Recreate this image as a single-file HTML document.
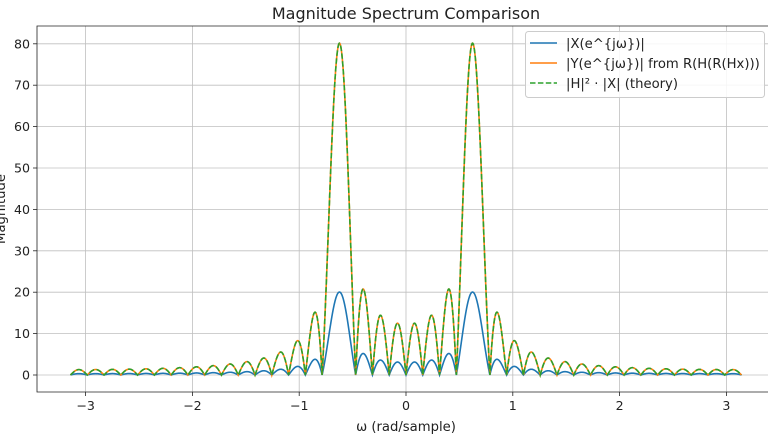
<!DOCTYPE html>
<html><head><meta charset="utf-8"><style>
body{margin:0;background:#fff;width:768px;height:435px;overflow:hidden}
text{font-family:"DejaVu Sans","Liberation Sans",sans-serif;fill:#222}
</style></head><body>
<svg id="s" width="768" height="435" xmlns="http://www.w3.org/2000/svg">
<rect width="768" height="435" fill="#fff"/>
<g id="grid" stroke="#b0b0b0" stroke-width="0.8" opacity="0.8"></g>
<g id="lines" fill="none"></g>
<g id="axes"></g>
<text x="406" y="19" text-anchor="middle" font-size="16">Magnitude Spectrum Comparison</text>
<text x="406" y="431" text-anchor="middle" font-size="13.2">ω (rad/sample)</text>
<text transform="translate(5,209) rotate(-90)" text-anchor="middle" font-size="13.2">Magnitude</text>
<g>
<rect x="525.5" y="31.5" width="239" height="66" rx="3" fill="#fff" fill-opacity="0.85" stroke="#ccc"/>
<line x1="530" y1="43" x2="557" y2="43" stroke="#1f77b4" stroke-width="1.6"/>
<line x1="530" y1="63" x2="557" y2="63" stroke="#ff7f0e" stroke-width="1.6"/>
<line x1="530" y1="83" x2="557" y2="83" stroke="#2ca02c" stroke-width="1.6" stroke-dasharray="5.5,2.4"/>
<text x="566" y="48" font-size="13.2">|X(e^{jω})|</text>
<text x="566" y="68" font-size="13.2">|Y(e^{jω})| from R(H(R(Hx)))</text>
<text x="566" y="88" font-size="13.2">|H|² · |X| (theory)</text>
</g>
</svg>
<script>
const X0=406,SX=106.8,Y0=375,SY=4.14,L=37,T=26,B=392,R=775;
const ns="http://www.w3.org/2000/svg";
function el(p,t,a,txt){const e=document.createElementNS(ns,t);for(const k in a)e.setAttribute(k,a[k]);if(txt!==undefined)e.textContent=txt;document.getElementById(p).appendChild(e);return e;}
for(let v=-3;v<=3;v++){const x=X0+v*SX;el('grid','line',{x1:x,y1:T,x2:x,y2:B});
el('axes','line',{x1:x,y1:B,x2:x,y2:B+4,stroke:'#222','stroke-width':0.8});
el('axes','text',{x:x,y:B+18,'text-anchor':'middle','font-size':12.6},(v<0?'−':'')+Math.abs(v));}
for(let v=0;v<=80;v+=10){const y=Y0-v*SY;el('grid','line',{x1:L,y1:y,x2:R,y2:y});
el('axes','line',{x1:L-4,y1:y,x2:L,y2:y,stroke:'#222','stroke-width':0.8});
el('axes','text',{x:L-7,y:y+4.5,'text-anchor':'end','font-size':12.6},v);}
el('axes','path',{d:`M${R},${T}H${L}V${B}H${R}`,fill:'none',stroke:'#222','stroke-width':0.8});
const N=40,w0=Math.PI/5;let pb='',po='';
for(let i=0;i<=3000;i++){const w=-Math.PI+2*Math.PI*i/3000;let re=0,im=0;
for(let n=0;n<N;n++){const c=Math.sin(w0*n);re+=c*Math.cos(w*n);im-=c*Math.sin(w*n);}
const m=Math.hypot(re,im);const x=(X0+w*SX).toFixed(2);
pb+=(i?'L':'M')+x+','+(Y0-m*SY).toFixed(2);po+=(i?'L':'M')+x+','+(Y0-4*m*SY).toFixed(2);}
el('lines','path',{d:pb,stroke:'#1f77b4','stroke-width':1.6});
el('lines','path',{d:po,stroke:'#ff7f0e','stroke-width':1.6});
el('lines','path',{d:po,stroke:'#2ca02c','stroke-width':1.6,'stroke-dasharray':'5.5,2.4'});
</script>
</body></html>
